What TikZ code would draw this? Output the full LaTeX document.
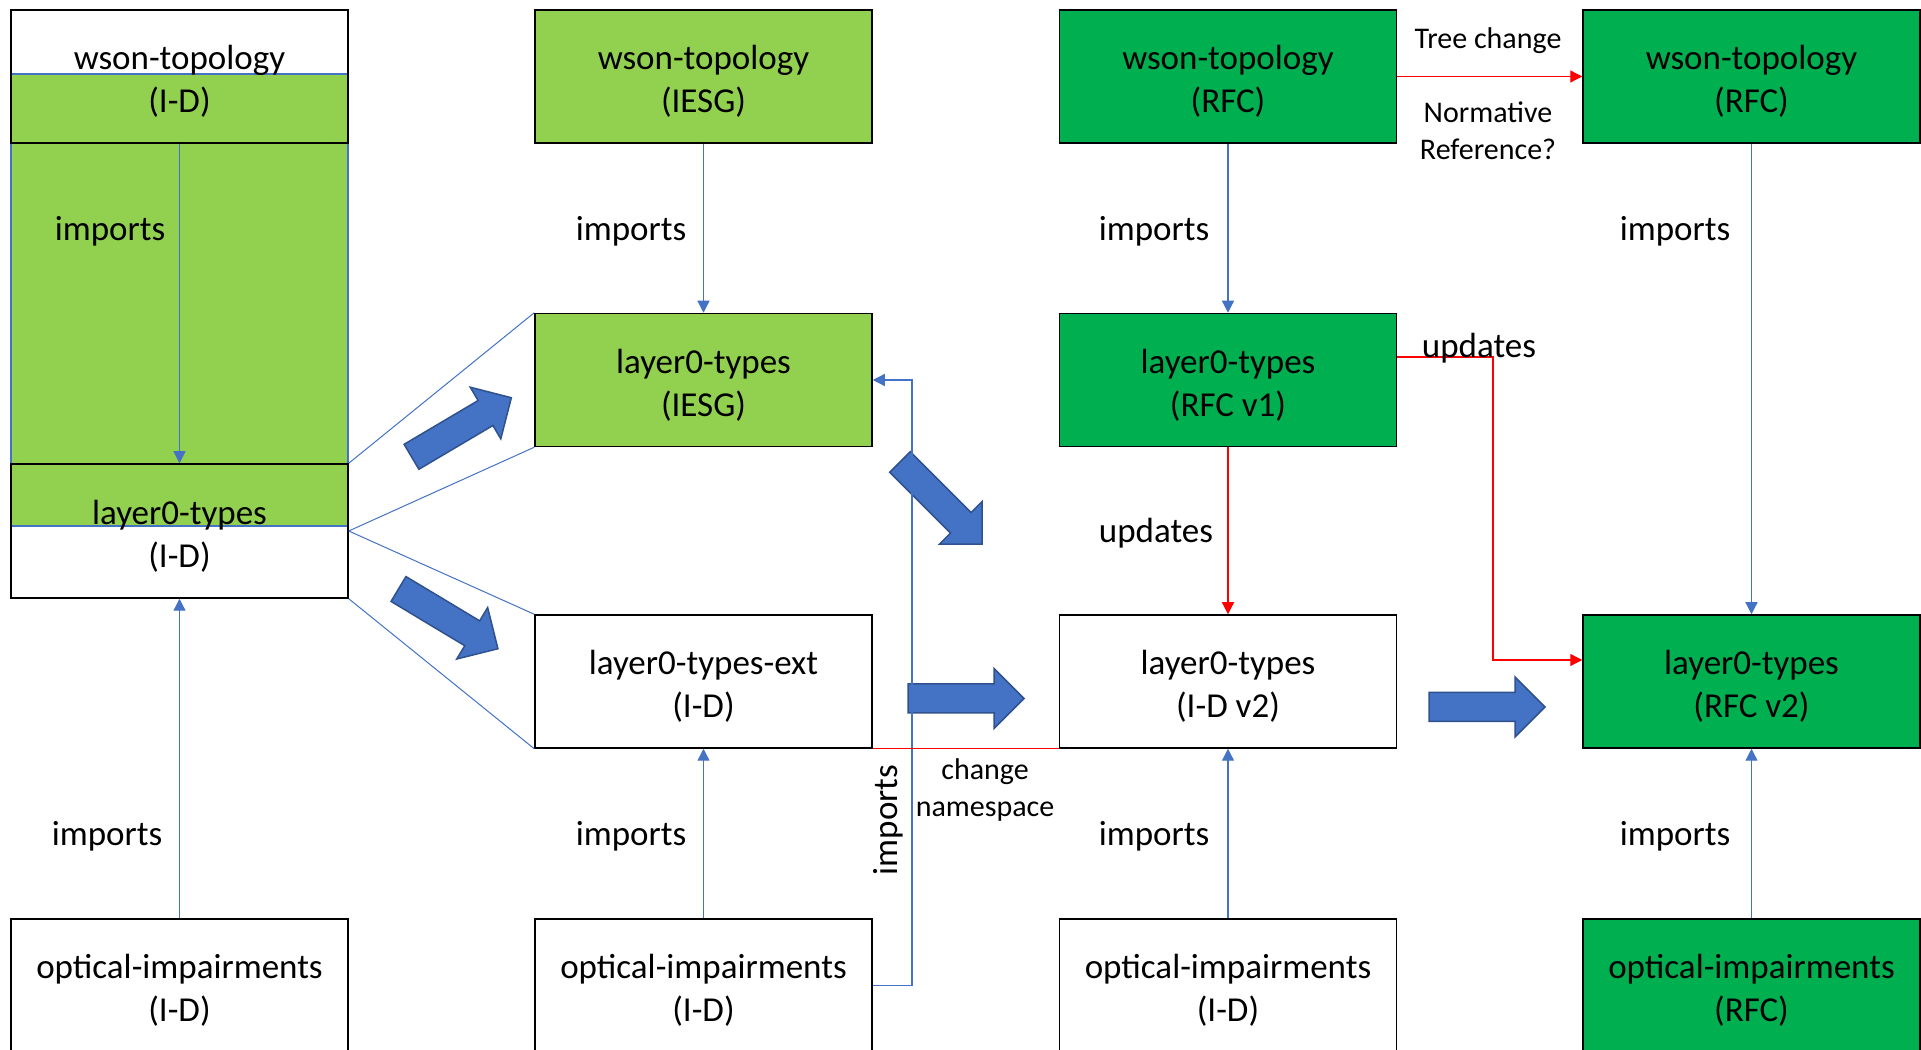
\documentclass[tikz,border=0pt]{standalone}
\usepackage{fontspec}
\setmainfont{Carlito}
\usetikzlibrary{arrows.meta}
\definecolor{lgreen}{HTML}{92D050}
\definecolor{dgreen}{HTML}{00B050}
\definecolor{cblue}{HTML}{4472C4}
\definecolor{cbluedark}{HTML}{2F528F}
\definecolor{cred}{HTML}{FF0000}
\newcommand\tstrut{\rule{0pt}{13.7pt}}
\tikzset{
  box/.style={draw=black, line width=0.6pt, minimum width=134.8pt, minimum height=53.2pt, inner sep=0pt, align=center, font=\fontsize{14}{17.3}\selectfont},
  lbl/.style={inner sep=0pt, font=\fontsize{14}{16.4}\selectfont, align=center},
  slbl/.style={inner sep=0pt, font=\fontsize{12}{14.6}\selectfont, align=center},
  imp/.style={draw=cblue, line width=0.5pt, -{Triangle[length=4.8pt,width=4.8pt]}},
  upd/.style={draw=cred, line width=0.5pt, -{Triangle[length=4.8pt,width=4.8pt]}},
  redline/.style={draw=cred, line width=0.5pt},
  callout/.style={draw=cblue, line width=0.4pt},
  barrow/.pic={\path[fill=cblue, draw=cbluedark, line width=0.6pt] (0,-14.5) -- (86,-14.5) -- (86,-30) -- (116,0) -- (86,30) -- (86,14.5) -- (0,14.5) -- cycle;}
}
\begin{document}
\begin{tikzpicture}[x=0.4pt,y=-0.4pt]
\useasboundingbox (0,0) rectangle (1921,1050);
\fill[white] (0,0) rectangle (1921,1050);

% green overlay in column 1
\path[fill=lgreen, draw=cblue, line width=0.5pt] (11,74) rectangle (348,526);

% column 1
\node[box] (c1w) at (179.5,76.5) {\tstrut wson-topology\\(I-D)};
\node[box, minimum height=53.6pt] (c1l) at (179.5,531) {\tstrut layer0-types\\(I-D)};
\node[box] (c1o) at (179.5,985.5) {\tstrut optical-impairments\\(I-D)};

% column 2
\node[box, fill=lgreen] (c2w) at (703.5,76.5) {\tstrut wson-topology\\(IESG)};
\node[box, fill=lgreen] (c2l) at (703.5,380) {\tstrut layer0-types\\(IESG)};
\node[box] (c2x) at (703.5,681.5) {\tstrut layer0-types-ext\\(I-D)};
\node[box] (c2o) at (703.5,985.5) {\tstrut optical-impairments\\(I-D)};

% column 3
\node[box, fill=dgreen] (c3w) at (1228,76.5) {\tstrut wson-topology\\(RFC)};
\node[box, fill=dgreen] (c3l) at (1228,380) {\tstrut layer0-types\\(RFC v1)};
\node[box] (c3v) at (1228,681.5) {\tstrut layer0-types\\(I-D v2)};
\node[box] (c3o) at (1228,985.5) {\tstrut optical-impairments\\(I-D)};

% column 4
\node[box, fill=dgreen] (c4w) at (1751.5,76.5) {\tstrut wson-topology\\(RFC)};
\node[box, fill=dgreen] (c4v) at (1751.5,681.5) {\tstrut layer0-types\\(RFC v2)};
\node[box, fill=dgreen] (c4o) at (1751.5,985.5) {\tstrut optical-impairments\\(RFC)};

% callout lines
\draw[callout] (c1l.north east) -- (c2l.north west);
\draw[callout] (c1l.east) -- (c2l.south west);
\draw[callout] (c1l.east) -- (c2x.north west);
\draw[callout] (c1l.south east) -- (c2x.south west);

% block arrows
\pic[rotate=30.6] at (411.5,456.8) {barrow};
\pic[rotate=-31] at (398.5,589) {barrow};
\pic[rotate=-45] at (900,462) {barrow};
\pic at (908,698.5) {barrow};
\pic at (1429,707) {barrow};

% connectors
\draw[imp] (c1w.south) -- (c1l.north);
\draw[imp] (c1o.north) -- (c1l.south);
\draw[imp] (c2w.south) -- (c2l.north);
\draw[imp] (c2o.north) -- (c2x.south);
\coordinate (k1) at (912,985.5);
\draw[imp] (c2o.east) -- (k1) |- (c2l.east);
\draw[imp] (c3w.south) -- (c3l.north);
\draw[upd] (c3l.south) -- (c3v.north);
\draw[imp] (c3o.north) -- (c3v.south);
\draw[imp] (c4w.south) -- (c4v.north);
\draw[imp] (c4o.north) -- (c4v.south);
\draw[upd] (c3w.east) -- (c4w.west);
\coordinate (k2) at (1493,357);
\coordinate (k3) at (1493,660);
\draw[upd] (c3l.east |- k2) -- (k2) -- (k3) -- (c4v.west |- k3);
\draw[redline] (c2x.south east) -- (c3v.south west);

% labels
\node[lbl] (i1) at (110,231) {imports};
\node[lbl] (i2) at (631,231) {imports};
\node[lbl] (i3) at (1154,231) {imports};
\node[lbl] (i4) at (1675,231) {imports};
\node[lbl] (i5) at (107,836) {imports};
\node[lbl] (i6) at (631,836) {imports};
\node[lbl] (i7) at (1154,836) {imports};
\node[lbl] (i8) at (1675,836) {imports};
\node[lbl, rotate=90] (i9) at (888,820) {imports};
\node[lbl] (u1) at (1156,533) {updates};
\node[lbl] (u2) at (1479,348) {updates};
\node[slbl] (tc) at (1488,41) {Tree change};
\node[slbl] (nr) at (1488,130.5) {Normative\\Reference?};
\node[slbl] (cn) at (985,790) {change\\namespace};
\end{tikzpicture}
\end{document}
